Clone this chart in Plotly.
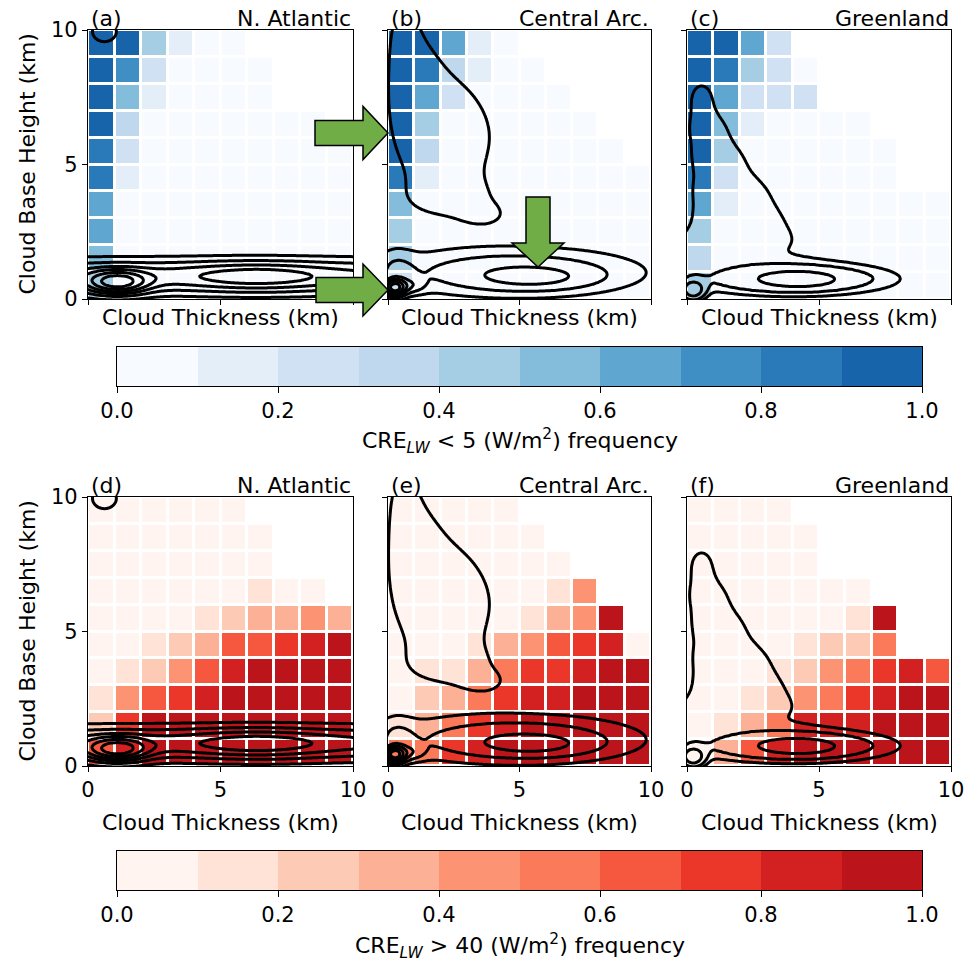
import numpy as np
import plotly.graph_objects as go

W, H = 966, 964

regions = ["N. Atlantic", "Central Arc.", "Greenland"]
panel_tags = ["(a)", "(b)", "(c)", "(d)", "(e)", "(f)"]
axis_ticks = [0, 5, 10]
cbar_ticks = [0.0, 0.2, 0.4, 0.6, 0.8, 1.0]
cbar_bins = [0.05 + 0.1 * i for i in range(10)]
cell_centres = [0.5 + i for i in range(10)]   # 1-km bins, 0-10 km

N = None
# Frequency per (base height, thickness) bin; rows run from 9-10 km down to 0-1 km.
na_low_cre = [
    [.95, .95, .45, .15, .05, .05, N, N, N, N],
    [.95, .75, .25, .05, .05, .05, .05, N, N, N],
    [.95, .55, .15, .05, .05, .05, .05, N, N, N],
    [.95, .35, .05, .05, .05, .05, .05, .05, .05, N],
    [.85, .25, .05, .05, .05, .05, .05, .05, .05, .05],
    [.85, .15, .05, .05, .05, .05, .05, .05, .05, .05],
    [.65, .05, .05, .05, .05, .05, .05, .05, .05, .05],
    [.65, .05, .05, .05, .05, .05, .05, .05, .05, .05],
    [.55, .05, .05, .05, .05, .05, .05, .05, .05, .05],
    [.45, .05, .05, .05, .05, .05, .05, .05, .05, .05],
]
ca_low_cre = [
    [.95, .95, .65, .15, .05, N, N, N, N, N],
    [.95, .85, .35, .15, .05, .05, N, N, N, N],
    [.95, .65, .25, .05, .05, .05, .05, N, N, N],
    [.95, .45, .05, .05, .05, .05, .05, .05, N, N],
    [.95, .35, .05, .05, .05, .05, .05, .05, .05, N],
    [.85, .15, .05, .05, .05, .05, .05, .05, .05, .05],
    [.55, .05, .05, .05, .05, .05, .05, .05, .05, .05],
    [.45, .05, .05, .05, .05, .05, .05, .05, .05, .05],
    [.45, .05, .05, .05, .05, .05, .05, .05, .05, .05],
    [.25, .05, .05, .05, .05, .05, .05, .05, .05, .05],
]
gl_low_cre = [
    [.95, .95, .65, .25, N, N, N, N, N, N],
    [.95, .85, .45, .25, .05, N, N, N, N, N],
    [.95, .65, .25, .25, .25, N, N, N, N, N],
    [.95, .55, .15, .05, .05, .05, .05, N, N, N],
    [.95, .45, .05, .05, .05, .05, .05, .05, N, N],
    [.85, .25, .05, .05, .05, .05, .05, .05, N, N],
    [.65, .15, .05, .05, .05, .05, .05, .05, .05, .05],
    [.45, .05, .05, .05, .05, .05, .05, .05, .05, .05],
    [.35, .05, .05, .05, .05, .05, .05, .05, .05, .05],
    [.45, .05, .05, .05, .05, .05, .05, .05, .05, .05],
]
na_high_cre = [
    [.05, .05, .05, .05, .05, .05, N, N, N, N],
    [.05, .05, .05, .05, .05, .05, .05, N, N, N],
    [.05, .05, .05, .05, .05, .05, .05, N, N, N],
    [.05, .05, .05, .05, .05, .05, .15, .05, .05, N],
    [.05, .05, .05, .05, .15, .25, .35, .35, .45, .35],
    [.05, .05, .15, .25, .35, .65, .65, .75, .85, .95],
    [.05, .15, .25, .45, .65, .85, .95, .95, .95, .95],
    [.15, .45, .65, .75, .85, .95, .95, .95, .95, .95],
    [.25, .75, .95, .95, .95, .95, .95, .95, .95, .95],
    [.65, .85, .95, .95, .95, .95, .95, .95, .95, .95],
]
ca_high_cre = [
    [.05, .05, .05, .05, .05, N, N, N, N, N],
    [.05, .05, .05, .05, .05, .05, N, N, N, N],
    [.05, .05, .05, .05, .05, .05, .05, N, N, N],
    [.05, .05, .05, .05, .05, .05, .15, .45, N, N],
    [.05, .05, .05, .05, .05, .15, .35, .45, .95, N],
    [.05, .05, .05, .15, .35, .45, .65, .75, .85, .05],
    [.05, .15, .15, .35, .55, .75, .75, .85, .95, .95],
    [.05, .25, .35, .55, .75, .85, .85, .95, .95, .95],
    [.15, .35, .55, .75, .85, .95, .95, .95, .95, .95],
    [.55, .55, .75, .85, .95, .95, .95, .95, .95, .95],
]
gl_high_cre = [
    [.05, .05, .05, .05, N, N, N, N, N, N],
    [.05, .05, .05, .05, .05, N, N, N, N, N],
    [.05, .05, .05, .05, .05, N, N, N, N, N],
    [.05, .05, .05, .05, .05, .05, .05, N, N, N],
    [.05, .05, .05, .05, .05, .05, .15, .95, N, N],
    [.05, .05, .05, .05, .15, .25, .25, .55, N, N],
    [.05, .05, .05, .15, .25, .45, .55, .75, .85, .65],
    [.05, .05, .15, .25, .45, .55, .75, .85, .95, .95],
    [.05, .15, .35, .55, .85, .85, .85, .95, .95, .95],
    [.05, .35, .65, .85, .95, .95, .95, .95, .95, .95],
]

# Gaussian kernels (x_km, y_km, sx, sy, weight) describing each region's cloud density
na_kde = [
    (5.0, 0.85, 15.0, 0.44, 3.8),
    (6.4, 0.82, 1.75, 0.35, 2.2),
    (1.1, 0.62, 0.75, 0.28, 7.2),
    (0.62, 9.95, 0.40, 0.34, 1.8),
]
na_levels = [0.95, 2.06, 3.4, 4.8, 6.5, 8.6]

ca_kde = [
    (4.8, 1.0, 3.4, 0.65, 3.2),
    (5.6, 0.77, 1.5, 0.30, 1.5),
    (0.25, 0.42, 0.25, 0.20, 9.0),
    (0.8, 0.50, 0.40, 0.20, 2.0),
    (0.3, 1.10, 0.50, 0.60, 1.2),
    (0.62, 10.2, 0.48, 1.0, 1.1),
    (1.0, 8.9, 0.85, 1.0, 1.1),
    (1.7, 7.6, 1.50, 1.0, 1.1),
    (2.1, 6.3, 1.75, 1.0, 1.1),
    (2.1, 5.0, 1.55, 1.0, 1.1),
    (2.4, 3.6, 1.80, 0.70, 1.1),
    (3.7, 3.05, 0.70, 0.35, 0.7),
]
ca_levels = [1.1, 2.1, 3.6, 5.0, 7.0, 9.5]

gl_kde = [
    (4.0, 0.75, 2.6, 0.42, 3.4),
    (4.3, 0.72, 1.0, 0.22, 1.5),
    (0.23, 0.33, 0.30, 0.25, 4.5),
    (0.55, 7.6, 0.50, 0.6, 1.1),
    (0.8, 6.4, 0.85, 0.6, 1.1),
    (1.2, 5.25, 1.15, 0.6, 1.1),
    (1.65, 4.1, 1.60, 0.6, 1.1),
    (1.95, 3.0, 1.90, 0.6, 1.1),
    (2.2, 2.0, 2.30, 0.55, 1.05),
    (0.15, 1.6, 0.35, 0.50, 0.6),
]
gl_levels = [1.0, 1.75, 3.5]

blues = ["#f7fbff", "#e3eef9", "#cfe1f2", "#bfd8ed", "#a5cde3",
         "#84bcdc", "#5fa6d1", "#3f8fc5", "#2a7ab9", "#1764ab"]
reds = ["#fff4ef", "#fee3d6", "#fdcab5", "#fcb095", "#fc9474",
        "#fb7a5a", "#f6573f", "#eb362a", "#d32020", "#bb141a"]

FONT = "DejaVu Sans"
LABEL = 22
TICK = 21


def stepped(colors):
    n = len(colors)
    scale = []
    for i, c in enumerate(colors):
        scale.append([i / n, c])
        scale.append([(i + 1) / n, c])
    return scale


def density_field(kernels, gx, gy):
    X, Y = np.meshgrid(gx, gy)
    z = np.zeros_like(X)
    for cx, cy, sx, sy, w in kernels:
        z += w * np.exp(-0.5 * ((X - cx) / sx) ** 2 - 0.5 * ((Y - cy) / sy) ** 2)
    return z


def level_index(z, levels):
    # remap density so each contour level sits on an integer
    nodes = [0.0] + list(levels) + [1e9]
    idx = list(range(len(levels) + 1)) + [len(levels) + 1 + 1e9]
    return np.round(np.interp(z, nodes, idx), 4)


def px_x(x):
    return x / W


def px_y(y):
    return 1 - y / H


col_px = [(88, 353), (388, 651), (687, 951)]
row_px = [(30, 299), (497, 766)]
cbar_x = (117, 922)
cbar_rows = [(347, 386), (851, 890)]
cbar_label_y = [441, 946]

gx = np.round(np.arange(-1.0, 11.01, 0.06), 3)
gy = np.round(np.arange(-1.0, 11.51, 0.06), 3)

kde_sets = [(na_kde, na_levels), (ca_kde, ca_levels), (gl_kde, gl_levels)]
grids = [[na_low_cre, ca_low_cre, gl_low_cre], [na_high_cre, ca_high_cre, gl_high_cre]]
palettes = [stepped(blues), stepped(reds)]
cbar_titles = ["CRE<sub><i>LW</i></sub> &lt; 5 (W/m<sup>2</sup>) frequency",
               "CRE<sub><i>LW</i></sub> &gt; 40 (W/m<sup>2</sup>) frequency"]

fig = go.Figure()
layout = dict(
    width=W, height=H, margin=dict(l=0, r=0, t=0, b=0, pad=0, autoexpand=False),
    paper_bgcolor="white", plot_bgcolor="white",
    font=dict(family=FONT, size=TICK, color="black"),
    showlegend=False,
)

frame = dict(showline=True, mirror=True, linecolor="black", linewidth=1.3,
             showgrid=False, zeroline=False)

annotations = []
for r in range(2):
    for c in range(3):
        i = r * 3 + c
        xa = "x" if i == 0 else f"x{i + 1}"
        ya = "y" if i == 0 else f"y{i + 1}"
        grid = grids[r][c][::-1]
        fig.add_trace(go.Heatmap(
            x=cell_centres, y=cell_centres, z=grid, zmin=0, zmax=1,
            colorscale=palettes[r], showscale=False,
            xgap=3, ygap=3, xaxis=xa, yaxis=ya, hoverinfo="skip",
        ))
        kernels, levels = kde_sets[c]
        zf = level_index(density_field(kernels, gx, gy), levels)
        fig.add_trace(go.Contour(
            x=gx, y=gy, z=zf, xaxis=xa, yaxis=ya,
            contours=dict(start=1, end=len(levels), size=1, coloring="none"),
            line=dict(color="black", width=3, smoothing=1.0),
            showscale=False, hoverinfo="skip",
        ))
        x0, x1 = col_px[c]
        y0, y1 = row_px[r]
        key_x = "xaxis" if i == 0 else f"xaxis{i + 1}"
        key_y = "yaxis" if i == 0 else f"yaxis{i + 1}"
        common = dict(frame, range=[0, 10], tickvals=axis_ticks, ticks="outside", ticklen=5,
                      tickwidth=1.3, tickcolor="black", tickfont=dict(size=TICK, family=FONT))
        layout[key_x] = dict(common, domain=[px_x(x0), px_x(x1)], anchor=ya,
                             showticklabels=(r == 1))
        layout[key_y] = dict(common, domain=[px_y(y1), px_y(y0)], anchor=xa,
                             showticklabels=(c == 0))
        annotations.append(dict(text=panel_tags[i], x=px_x(x0 + 1), y=px_y(y0 + 3),
                                xref="paper", yref="paper", xanchor="left", yanchor="bottom",
                                showarrow=False, font=dict(size=LABEL)))
        annotations.append(dict(text=regions[c], x=px_x(x1), y=px_y(y0 + 3),
                                xref="paper", yref="paper", xanchor="right", yanchor="bottom",
                                showarrow=False, font=dict(size=LABEL)))
        title_y = 318 if r == 0 else 822
        annotations.append(dict(text="Cloud Thickness (km)", x=px_x((x0 + x1) / 2), y=px_y(title_y),
                                xref="paper", yref="paper", xanchor="center", yanchor="middle",
                                showarrow=False, font=dict(size=LABEL)))
    y0, y1 = row_px[r]
    annotations.append(dict(text="Cloud Base Height (km)", x=px_x(27), y=px_y((y0 + y1) / 2),
                            xref="paper", yref="paper", xanchor="center", yanchor="middle",
                            textangle=-90, showarrow=False, font=dict(size=LABEL)))

# colour keys drawn as one-row heatmaps on their own axes
for k in range(2):
    xa, ya = f"x{7 + k}", f"y{7 + k}"
    fig.add_trace(go.Heatmap(
        x=cbar_bins, y=[0.5], z=[cbar_bins], zmin=0, zmax=1,
        colorscale=palettes[k], showscale=False, xaxis=xa, yaxis=ya, hoverinfo="skip",
    ))
    cy0, cy1 = cbar_rows[k]
    layout[f"xaxis{7 + k}"] = dict(frame, domain=[px_x(cbar_x[0]), px_x(cbar_x[1])], anchor=ya,
                                   range=[0, 1], tickvals=cbar_ticks,
                                   ticktext=[f"{t:.1f}" for t in cbar_ticks],
                                   ticks="outside", ticklen=6, tickwidth=1.2, tickcolor="black",
                                   tickfont=dict(size=TICK, family=FONT), linewidth=1.2)
    layout[f"yaxis{7 + k}"] = dict(frame, domain=[px_y(cy1), px_y(cy0)], anchor=xa,
                                   range=[0, 1], showticklabels=False, ticks="", linewidth=1.2)
    annotations.append(dict(text=cbar_titles[k], x=px_x(519.5), y=px_y(cbar_label_y[k]),
                            xref="paper", yref="paper", xanchor="center", yanchor="middle",
                            showarrow=False, font=dict(size=LABEL)))

layout["annotations"] = annotations


def block_arrow(tip_x, tip_y, direction, length, shaft, head, head_len):
    if direction == "right":
        pts = [(tip_x - length, tip_y - shaft / 2), (tip_x - head_len, tip_y - shaft / 2),
               (tip_x - head_len, tip_y - head / 2), (tip_x, tip_y),
               (tip_x - head_len, tip_y + head / 2), (tip_x - head_len, tip_y + shaft / 2),
               (tip_x - length, tip_y + shaft / 2)]
    else:
        pts = [(tip_x - shaft / 2, tip_y - length), (tip_x - shaft / 2, tip_y - head_len),
               (tip_x - head / 2, tip_y - head_len), (tip_x, tip_y),
               (tip_x + head / 2, tip_y - head_len), (tip_x + shaft / 2, tip_y - head_len),
               (tip_x + shaft / 2, tip_y - length)]
    path = "M " + " L ".join(f"{px_x(x):.5f},{px_y(y):.5f}" for x, y in pts) + " Z"
    return dict(type="path", path=path, xref="paper", yref="paper",
                fillcolor="#70ad47", line=dict(color="black", width=1.5), layer="above")


layout["shapes"] = [
    block_arrow(388, 133, "right", 73, 25, 53, 25),
    block_arrow(388, 290, "right", 72, 25, 52, 25),
    block_arrow(538, 267, "down", 70, 24, 52, 24),
]

fig.update_layout(**layout)
fig.write_html("out.html")
